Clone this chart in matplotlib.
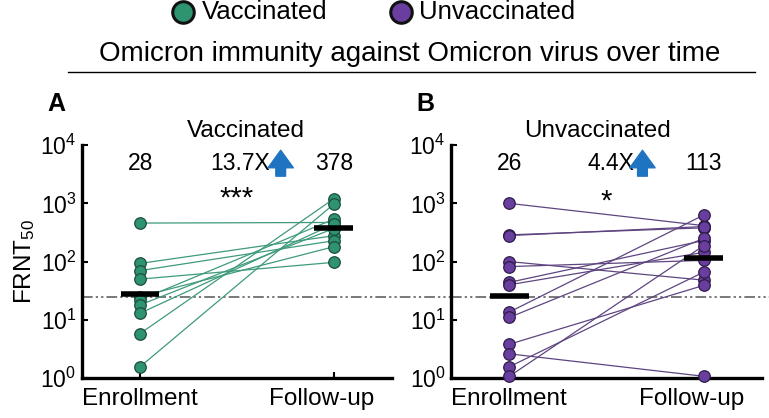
import matplotlib
matplotlib.use('Agg')
import matplotlib.pyplot as plt
from matplotlib.patches import FancyArrowPatch
from matplotlib.lines import Line2D
from matplotlib.transforms import ScaledTranslation
import numpy as np

plt.rcParams['font.family'] = ['Liberation Sans', 'DejaVu Sans']
plt.rcParams['mathtext.fontset'] = 'custom'
plt.rcParams['mathtext.rm'] = 'Liberation Sans'
plt.rcParams['mathtext.it'] = 'Liberation Sans'

# data (FRNT50 titres)
timepoints = ["Enrollment", "Follow-up"]
vac_enroll = [459, 93, 70, 50, 25, 22, 18, 13, 5.8, 1.56]
vac_follow = [470, 278, 228, 97, 180, 535, 370, 440, 1200, 970]
unvac_enroll = [1000, 288, 280, 100, 82, 44, 40, 13.6, 11, 3.8, 2.6, 1.56, 1.07]
unvac_follow = [415, 380, 400, 48, 105, 230, 144, 630, 250, 39, 1.07, 66, 188]
vac_gmt = [28, 378]
unvac_gmt = [26, 113]
fold_change = ["13.7X", "4.4X"]
signif = ["***", "*"]
detection_limit = 25

green, green_edge, green_line = '#2e9470', '#1d4d3c', '#3f9a7c'
purple, purple_edge, purple_line = '#6a3e9e', '#2e1b4a', '#5e4580'
arrow_blue = '#1f74c2'

fig = plt.figure(figsize=(7.69, 4.18), dpi=100)
axA = fig.add_axes([0.1066, 0.0957, 0.403, 0.557])
axB = fig.add_axes([0.5865, 0.0957, 0.4044, 0.557])


def draw_panel(ax, enroll, follow, gmt, face, edge, lc, title, letter, fold, sig,
               arrow_x, fold_x, title_x, sig_x, sig_y, dash_ext):
    x = [0, 1]
    for e, f in zip(enroll, follow):
        ax.plot(x, [e, f], color=lc, lw=0.9, zorder=2)
    ax.plot(np.zeros(len(enroll)), enroll, 'o', ms=8.3, mfc=face, mec=edge, mew=0.9,
            zorder=3, clip_on=False)
    ax.plot(np.ones(len(follow)), follow, 'o', ms=8.3, mfc=face, mec=edge, mew=0.9,
            zorder=3, clip_on=False)
    ax.hlines(gmt, [-0.1, 0.9], [0.1, 1.1], color='black', lw=4, zorder=4)
    ax.axhline(detection_limit, xmin=0, xmax=dash_ext, color='#555555', lw=1.1,
               dashes=(7, 2, 1.5, 2, 1.5, 2), zorder=1, clip_on=False)

    ax.set_yscale('log')
    ax.set_ylim(1, 1e4)
    ax.set_xlim(-0.3, 1.3)
    ax.set_yticks([1, 10, 100, 1000, 10000])
    ax.minorticks_off()
    ax.set_xticks(x)
    ax.set_xticklabels(timepoints)
    ax.tick_params(axis='both', direction='in', length=4, width=1.5, labelsize=16.5)
    ax.tick_params(axis='x', pad=7, labelsize=17.5)
    ax.tick_params(axis='y', pad=4)
    # follow-up label sits a bit left of its tick in the original
    lab = ax.get_xticklabels()[1]
    lab.set_transform(lab.get_transform() + ScaledTranslation(-0.12, 0, fig.dpi_scale_trans))
    for s in ['top', 'right']:
        ax.spines[s].set_visible(False)
    for s in ['left', 'bottom']:
        ax.spines[s].set_linewidth(2.4)

    ty = 10 ** 3.69
    ax.text(0, ty, str(gmt[0]), ha='center', va='center', fontsize=16.5, clip_on=False)
    ax.text(1, ty, str(gmt[1]), ha='center', va='center', fontsize=16.5, clip_on=False)
    ax.text(fold_x, ty, fold, ha='center', va='center', fontsize=16.5, clip_on=False)
    ax.text(sig_x, sig_y, sig, ha='center', va='baseline', fontsize=21, clip_on=False)
    ax.text(title_x, 10 ** 4.25, title, ha='center', va='center', fontsize=17.5, clip_on=False)
    ax.text(-0.43, 10 ** 4.71, letter, ha='center', va='center', fontsize=18,
            fontweight='bold', clip_on=False)
    arr = FancyArrowPatch((arrow_x, 10 ** 3.42), (arrow_x, 10 ** 3.96),
                          arrowstyle='simple,head_length=0.9,head_width=1.3,tail_width=0.5',
                          mutation_scale=14, color=arrow_blue, clip_on=False, zorder=5)
    ax.add_patch(arr)


draw_panel(axA, vac_enroll, vac_follow, vac_gmt, green, green_edge, green_line,
           "Vaccinated", "A", fold_change[0], signif[0], 0.726, 0.515, 0.545,
           0.50, 10 ** 2.94, 1.19)
draw_panel(axB, unvac_enroll, unvac_follow, unvac_gmt, purple, purple_edge, purple_line,
           "Unvaccinated", "B", fold_change[1], signif[1], 0.685, 0.525, 0.455,
           0.50, 10 ** 2.90, 1.03)

axA.set_ylabel("FRNT$_{50}$", fontsize=17.5, labelpad=2)

# legend and header
fig.add_artist(Line2D([0.238], [0.971], marker='o', ms=15.5, mfc=green, mec='#111111',
                      mew=2.2, transform=fig.transFigure))
fig.text(0.262, 0.971, "Vaccinated", ha='left', va='center', fontsize=18.5)
fig.add_artist(Line2D([0.521], [0.971], marker='o', ms=15.5, mfc=purple, mec='#111111',
                      mew=2.2, transform=fig.transFigure))
fig.text(0.545, 0.971, "Unvaccinated", ha='left', va='center', fontsize=18.5)
fig.text(0.533, 0.872, "Omicron immunity against Omicron virus over time",
         ha='center', va='center', fontsize=20)
fig.add_artist(Line2D([0.088, 0.982], [0.828, 0.828], color='black', lw=1,
                      transform=fig.transFigure))

fig.savefig('out.png', dpi=100)
